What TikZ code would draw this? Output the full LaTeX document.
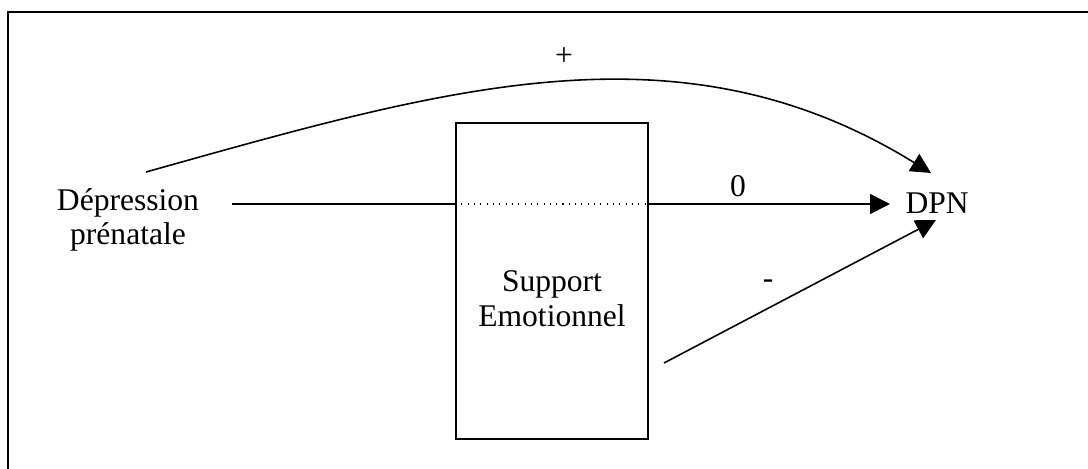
\documentclass[tikz,border=0pt]{standalone}
\usepackage{fontspec}
\setmainfont{Liberation Serif}
\usetikzlibrary{arrows.meta}
\begin{document}
\begin{tikzpicture}[x=0.38pt,y=-0.38pt,
  conn/.style={line width=0.6pt},
  arr/.style={conn,-{Triangle[length=7.6pt,width=7.6pt]}},
  txt/.style={inner sep=0pt,font=\fontsize{12}{13.2}\selectfont},
  box/.style={draw,line width=0.65pt,minimum width=73pt,minimum height=120pt,inner sep=0pt}]
\useasboundingbox (0,0) rectangle (1088,468);
\clip (0,0) rectangle (1088,468);
\draw[line width=0.8pt] (8,520) -- (8,12) -- (1120,12);
\node[box] (sup) at (552,281) {};
\node[txt,align=center] (suptxt) at (552,299) {Support\\Emotionnel};
\node[txt,align=center] (dep) at (128,220) {Dépression\\prénatale};
\node[txt,anchor=west] (dpn) at (905,203) {DPN};
\coordinate (hs) at (232,204);
\coordinate (hl) at (sup.west |- hs);
\coordinate (hr) at (sup.east |- hs);
\coordinate (he) at (890,204);
\coordinate (cs) at (146,172);
\coordinate (ce) at (931,173);
\coordinate (ls) at (664,363);
\coordinate (le) at (936,220);
\draw[conn] (hs) -- (hl);
\draw[dotted,line width=0.4pt] (hl) -- (hr);
\draw[arr] (hr) -- (he);
\draw[arr] (cs) .. controls (446,88) and (680,18) .. (ce);
\draw[arr] (ls) -- (le);
\node[txt] (plus) at (564,57) {+};
\node[txt] (zero) at (738,186) {0};
\node[txt] (minus) at (768,284) {-};
\end{tikzpicture}
\end{document}
